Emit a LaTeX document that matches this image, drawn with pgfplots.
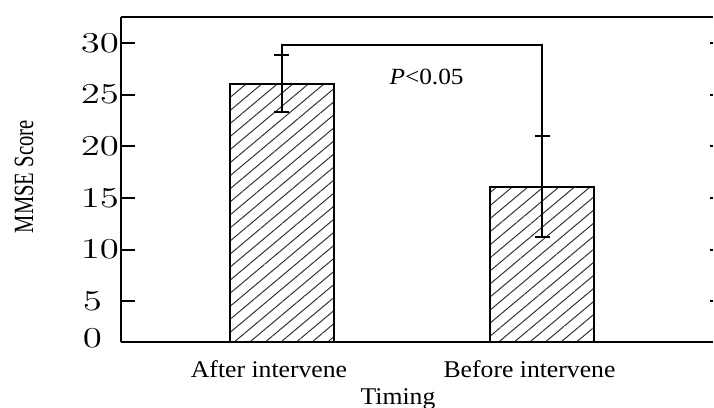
\documentclass[border=0pt]{standalone}
\usepackage{fontspec}
\setmainfont{Liberation Serif}
\usepackage{pgfplots}
\pgfplotsset{compat=1.18}
\usetikzlibrary{patterns.meta}
\newcommand{\yl}[1]{\scalebox{1.35}[1]{$#1$}}
\begin{document}
\begin{tikzpicture}
\path[use as bounding box] (-60.5pt,-33pt) rectangle (296.5pt,171pt);
\begin{axis}[
  at={(0pt,0pt)}, anchor=south west,
  scale only axis, width=296pt, height=162.5pt,
  xmin=-0.618, xmax=1.6545, ymin=1.065, ymax=32.5,
  axis line style={draw=none},
  clip=false,
  ytick={5,10,15,20,25,30},
  yticklabels={{\yl{5}\rule{8.5pt}{0pt}},\yl{10},\yl{15},\yl{20},\yl{25},\yl{30}},
  ytick pos=left,
  ytick align=inside,
  major tick length=7pt,
  ytick style={line width=1pt, black},
  extra y ticks={1.065},
  extra y tick labels={{\yl{0}\rule{8.5pt}{0pt}}},
  extra y tick style={major tick length=0pt, yticklabel style={yshift=2pt}},
  y tick label style={font=\fontsize{14}{16}\selectfont, xshift=2.5pt},
  xtick={0,1},
  xticklabels={\scalebox{1.07}[1]{After intervene}, \scalebox{1.07}[1]{Before intervene}},
  xtick style={draw=none},
  x tick label style={font=\fontsize{12}{14}\selectfont, xshift=-6.5pt, yshift=-6pt},
  xlabel={\scalebox{1.07}[1]{Timing}},
  xlabel style={font=\fontsize{12}{14}\selectfont, at={(axis description cs:0.468,0)}, anchor=north, yshift=-20pt},
  ylabel={\scalebox{1}[1.35]{MMSE Score}},
  ylabel style={font=\fontsize{10.3}{12}\selectfont, at={(axis description cs:-0.1639,0.508)}, anchor=center},
]
\addplot[ybar, bar width=52pt, draw=black, line width=1pt,
  pattern={Lines[angle=40,distance=5pt,line width=0.5pt]}, pattern color=black!80,
  error bars/.cd, y dir=both, y explicit,
  error bar style={line width=1pt, black},
  error mark options={rotate=90, mark size=3.75pt, line width=1pt, black}]
  coordinates {(0,26.06) +- (0,2.79) (1,16.1) +- (0,4.9)};
\draw[line width=1pt] (axis cs:0,28.85) |- (axis cs:1,29.8) -- (axis cs:1,21.0);
\node[font=\fontsize{11.6}{13}\selectfont] at (axis cs:0.555,26.7) {\scalebox{1.09}[1]{\textit{P}<0.05}};
\draw[line width=1pt] (rel axis cs:0,0) -- (rel axis cs:1,0);
\draw[line width=1pt] (rel axis cs:0,1) -- (rel axis cs:1,1);
\draw[line width=1pt] (rel axis cs:0,0) -- (rel axis cs:0,1);
\pgfplotsinvokeforeach{5,10,15,20,25,30}{
  \draw[line width=1pt] (axis cs:1.6545,#1) -- ++(-1.5pt,0pt);
}
\end{axis}
\end{tikzpicture}
\end{document}
